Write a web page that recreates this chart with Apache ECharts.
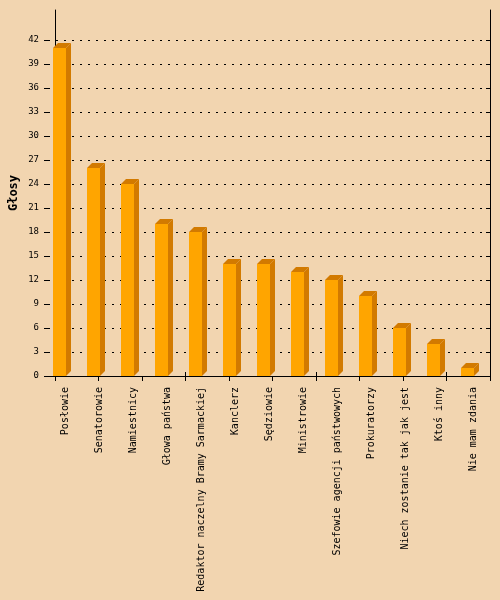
<!DOCTYPE html>
<html>
<head>
<meta charset="utf-8">
<script src="https://cdn.jsdelivr.net/npm/echarts@6/dist/echarts.min.js"></script>
<style>
html, body { margin: 0; padding: 0; background: #F2D5B0; }
#chart { width: 500px; height: 600px; }
</style>
</head>
<body>
<div id="chart"></div>
<script>
var categories = ['Posłowie', 'Senatorowie', 'Namiestnicy', 'Głowa państwa', 'Redaktor naczelny Bramy Sarmackiej',
    'Kanclerz', 'Sędziowie', 'Ministrowie', 'Szefowie agencji państwowych', 'Prokuratorzy',
    'Niech zostanie tak jak jest', 'Ktoś inny', 'Nie mam zdania'];
var votes = [41, 26, 24, 19, 18, 14, 14, 13, 12, 10, 6, 4, 1];
var yMax = 42, yStep = 3;
var axisName = 'Głosy';

var mono = 'DejaVu Sans Mono';
var front = '#FFA500', dark = '#D27A00';

// 3d bar: front face + side + top
function bar3d(params, api) {
    var i = api.value(0), v = api.value(1);
    var base = api.coord([i, 0]), top = api.coord([i, v]);
    var band = api.size([1, 0])[0];
    var w = 13, d = 5;
    var x0 = base[0] - band / 2 + 5, x1 = x0 + w;
    var y0 = base[1], y1 = top[1];
    return {
        type: 'group',
        children: [
            { type: 'rect', shape: { x: x0, y: y1, width: w, height: y0 - y1 }, style: { fill: front } },
            { type: 'polygon', shape: { points: [[x1, y1], [x1 + d, y1 - d], [x1 + d, y0 - d], [x1, y0]] }, style: { fill: dark } },
            { type: 'polygon', shape: { points: [[x0, y1], [x0 + d, y1 - d], [x1 + d, y1 - d], [x1, y1]] }, style: { fill: dark } }
        ]
    };
}

var chart = echarts.init(document.getElementById('chart'));
var option = {
    backgroundColor: '#F2D5B0',
    animation: false,
    grid: [
        { left: 48, right: 10, top: 40, bottom: 224 },
        { left: 48, right: 10, top: 10, bottom: 224 }
    ],
    xAxis: [
        {
            type: 'category', gridIndex: 0, data: categories,
            axisLine: { show: true, onZero: false, lineStyle: { color: '#000', width: 1 } },
            axisTick: { show: false },
            axisLabel: { interval: 0, rotate: 90, margin: 11, color: '#000', fontFamily: mono, fontSize: 10 }
        },
        {
            type: 'value', gridIndex: 1, position: 'bottom', min: 0, max: 10, interval: 1,
            axisLine: { show: false, onZero: false }, axisLabel: { show: false }, splitLine: { show: false },
            axisTick: { show: true, length: 5, lineStyle: { color: '#000' } }
        },
        {
            type: 'value', gridIndex: 1, position: 'bottom', min: 0, max: 10, interval: 3,
            axisLine: { show: false, onZero: false }, axisLabel: { show: false }, splitLine: { show: false },
            axisTick: { show: true, inside: true, length: 4, lineStyle: { color: '#000' } }
        }
    ],
    yAxis: [
        {
            type: 'value', gridIndex: 0, min: 0, max: yMax, interval: yStep,
            axisLine: { show: false, onZero: false },
            axisTick: { show: true, length: 4, lineStyle: { color: '#000' } },
            axisLabel: { color: '#000', fontFamily: mono, fontSize: 9, margin: 9 },
            splitLine: { show: true, lineStyle: { color: '#000', width: 1, type: [2, 6] } }
        },
        {
            type: 'value', gridIndex: 0, min: 0, max: yMax, interval: yStep,
            axisLine: { show: false, onZero: false }, axisLabel: { show: false }, splitLine: { show: false },
            axisTick: { show: true, inside: true, length: 4, lineStyle: { color: '#000' } }
        },
        {
            type: 'value', gridIndex: 1, position: 'left',
            name: axisName, nameLocation: 'middle', nameRotate: 90, nameGap: 35,
            nameTextStyle: { color: '#000', fontFamily: mono, fontWeight: 'bold', fontSize: 12 },
            axisLine: { show: true, onZero: false, lineStyle: { color: '#000', width: 1 } },
            axisTick: { show: false }, axisLabel: { show: false }, splitLine: { show: false }
        },
        {
            type: 'value', gridIndex: 1, position: 'right',
            axisLine: { show: true, onZero: false, lineStyle: { color: '#000', width: 1 } },
            axisTick: { show: false }, axisLabel: { show: false }, splitLine: { show: false }
        }
    ],
    series: [{
        type: 'custom', xAxisIndex: 0, yAxisIndex: 0,
        renderItem: bar3d,
        data: votes.map(function (v, i) { return [i, v]; })
    }]
};
chart.setOption(option);
</script>
</body>
</html>
